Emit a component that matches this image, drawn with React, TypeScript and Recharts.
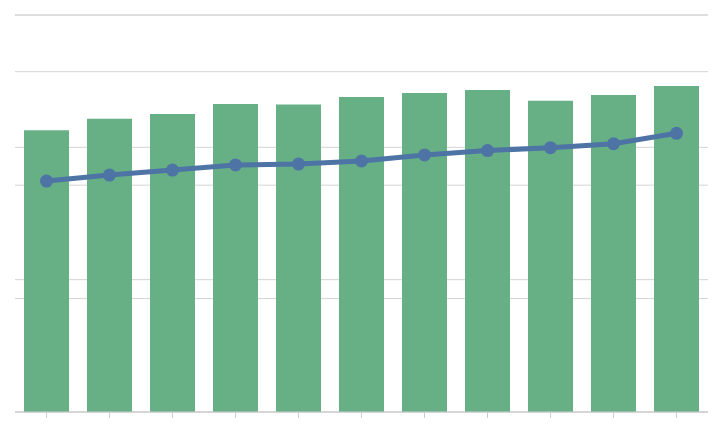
import { ComposedChart, Bar, Line, XAxis, YAxis, CartesianGrid } from "recharts";

const categories = ["1", "2", "3", "4", "5", "6", "7", "8", "9", "10", "11"];
const barValues = [213, 221.6, 225.2, 232.7, 232.4, 238, 241, 243.3, 235.2, 239.5, 246.3];
const lineValues = [2.036, 2.089, 2.133, 2.178, 2.186, 2.213, 2.266, 2.305, 2.33, 2.365, 2.457];
const leftTicks = [0, 100, 200, 300];
const rightTicks = [0, 1, 2, 3];

const data = categories.map((c, i) => ({ name: c, bar: barValues[i], line: lineValues[i] }));

export default function App() {
  return (
    <div style={{ position: "absolute", left: 0, top: 0 }}>
      <ComposedChart width={723} height={447} data={data} margin={{ top: 15, right: 15, bottom: 5, left: 15 }}>
        <CartesianGrid yAxisId="a" vertical={false} stroke="#d4d4d4" />
        <CartesianGrid yAxisId="b" vertical={false} stroke="#d4d4d4" />
        <XAxis
          dataKey="name"
          stroke="#cccccc"
          tickLine={{ stroke: "#cccccc" }}
          tickSize={6}
          tickFormatter={() => ""}
          height={30}
        />
        <YAxis yAxisId="a" hide domain={[0, 300]} ticks={leftTicks} />
        <YAxis yAxisId="b" hide orientation="right" domain={[0, 3.5]} ticks={rightTicks} />
        <Bar yAxisId="a" dataKey="bar" fill="#67b085" barSize={45} isAnimationActive={false} />
        <Line
          yAxisId="b"
          dataKey="line"
          stroke="#4e74a6"
          strokeWidth={5}
          dot={{ r: 6.5, fill: "#4e74a6", stroke: "#4e74a6", strokeWidth: 0 }}
          isAnimationActive={false}
        />
      </ComposedChart>
    </div>
  );
}
